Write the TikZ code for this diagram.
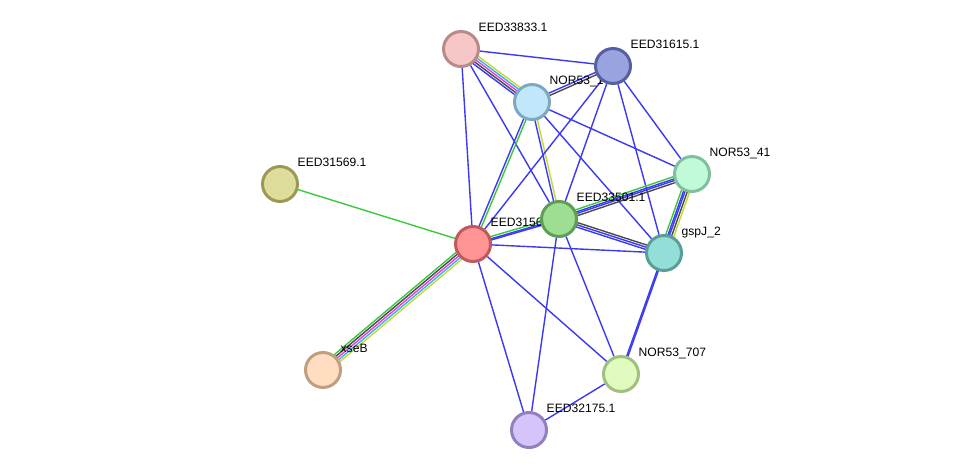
\documentclass[tikz,border=0pt]{standalone}
\usepackage{fontspec}
\setmainfont{Liberation Sans}
\usepackage{xcolor}
\usetikzlibrary{calc, backgrounds}

\definecolor{eBlue}{HTML}{3A3AF2}
\definecolor{eGreen}{HTML}{3CC83C}
\definecolor{eBlack}{HTML}{4A4A4A}
\definecolor{eMagenta}{HTML}{E040E0}
\definecolor{eCyan}{HTML}{38B4E4}
\definecolor{eYellow}{HTML}{C4D838}

% parallel coloured lines between two nodes: colour/offset (px)
\newcommand{\bundle}[3]{%
  \foreach \col/\off in {#3}
    \draw[edge, \col] ($(#1)!{\off*0.025cm}!90:(#2)$) -- ($(#2)!{\off*0.025cm}!-90:(#1)$);}

\begin{document}
\begin{tikzpicture}[x=0.02cm, y=-0.02cm,
            prot/.style={circle, minimum size=0.7cm, inner sep=0pt, line width=1.7pt},
            lbl/.style={anchor=base west, inner sep=0pt, label distance=0.11cm,
                        font=\fontsize{6.9}{8}\selectfont},
            edge/.style={line width=0.8pt, eBlue}
        ]
        \useasboundingbox (0,0) rectangle (976,476);

            % Proteins
            \node[prot, fill={rgb,255:red,222;green,221;blue,156}, draw={rgb,255:red,154;green,154;blue,85},
                  label={[lbl]north east:EED31569.1}] (s69) at (280,184) {};
            \node[prot, fill={rgb,255:red,255;green,221;blue,192}, draw={rgb,255:red,192;green,158;blue,128},
                  label={[lbl]north east:xseB}] (xse) at (323,370) {};
            \node[prot, fill={rgb,255:red,247;green,198;blue,198}, draw={rgb,255:red,184;green,138;blue,138},
                  label={[lbl]north east:EED33833.1}] (s33) at (461,49) {};
            \node[prot, fill={rgb,255:red,192;green,232;blue,250}, draw={rgb,255:red,128;green,168;blue,192},
                  label={[lbl]north east:NOR53\_1}] (n1) at (532,102) {};
            \node[prot, fill={rgb,255:red,153;green,163;blue,224}, draw={rgb,255:red,85;green,96;blue,160},
                  label={[lbl]north east:EED31615.1}] (s15) at (613,66) {};
            \node[prot, fill={rgb,255:red,255;green,148;blue,148}, draw={rgb,255:red,192;green,90;blue,90},
                  label={[lbl]north east:EED31567.1}] (s67) at (473,244) {};
            \node[prot, fill={rgb,255:red,158;green,222;blue,146}, draw={rgb,255:red,94;green,158;blue,86},
                  label={[lbl]north east:EED33501.1}] (s01) at (559,219) {};
            \node[prot, fill={rgb,255:red,192;green,250;blue,216}, draw={rgb,255:red,128;green,192;blue,160},
                  label={[lbl]north east:NOR53\_41}] (n41) at (692,174) {};
            \node[prot, fill={rgb,255:red,148;green,222;blue,216}, draw={rgb,255:red,90;green,158;blue,152},
                  label={[lbl]north east:gspJ\_2}] (gsp) at (664,253) {};
            \node[prot, fill={rgb,255:red,224;green,250;blue,192}, draw={rgb,255:red,160;green,192;blue,128},
                  label={[lbl]north east:NOR53\_707}] (n707) at (621,374) {};
            \node[prot, fill={rgb,255:red,212;green,196;blue,250}, draw={rgb,255:red,144;green,128;blue,192},
                  label={[lbl]north east:EED32175.1}] (s75) at (529,430) {};

            % Links
            \begin{scope}[on background layer]
            \draw[edge] (s33) -- (s15);
            \bundle{s33}{n1}{eBlue/-3.6, eBlack/-1.8, eMagenta/0, eCyan/1.8, eYellow/3.6}
            \draw[edge] (s33) -- (s67);
            \draw[edge] (s33) -- (s01);
            \bundle{n1}{s15}{eBlue/1, eBlack/-1}
            \bundle{n1}{s67}{eGreen/1, eBlue/-1}
            \bundle{n1}{s01}{eYellow/1, eBlue/-1}
            \draw[edge] (n1) -- (n41);
            \draw[edge] (n1) -- (gsp);
            \draw[edge] (s15) -- (s67);
            \draw[edge] (s15) -- (s01);
            \draw[edge] (s15) -- (n41);
            \draw[edge] (s15) -- (gsp);
            \draw[edge, eGreen] (s69) -- (s67);
            \bundle{s67}{xse}{eGreen/-3.6, eBlack/-1.8, eMagenta/0, eCyan/1.8, eYellow/3.6}
            \bundle{s67}{s01}{eGreen/1.8, eBlue/0, eBlue/-1}
            \draw[edge] (s67) -- (gsp);
            \draw[edge] (s67) -- (n707);
            \draw[edge] (s67) -- (s75);
            \bundle{s01}{n41}{eGreen/2.7, eBlue/0.9, eBlue/-0.4, eBlack/-2.2}
            \bundle{s01}{gsp}{eBlack/1.8, eBlue/0, eBlue/-1.8}
            \draw[edge] (s01) -- (s75);
            \draw[edge] (s01) -- (n707);
            \bundle{n41}{gsp}{eGreen/-3.6, eBlue/-1.8, eBlue/-0.6, eBlack/1.2, eYellow/3}
            \bundle{gsp}{n707}{eBlue/0.5, eBlue/-0.5}
            \draw[edge] (n707) -- (s75);
            \end{scope}

\end{tikzpicture}
\end{document}
